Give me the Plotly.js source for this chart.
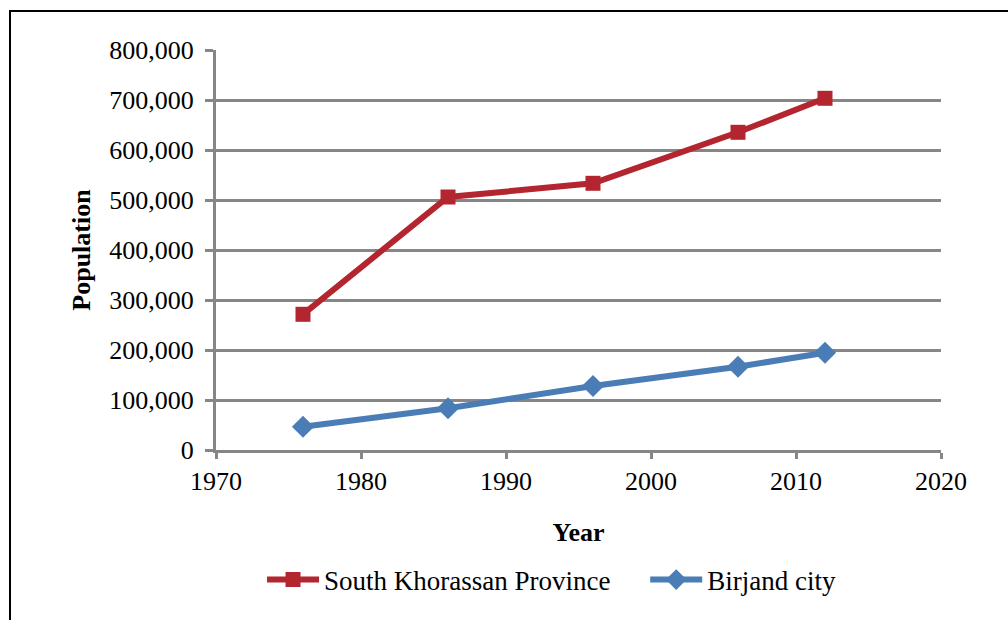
<!DOCTYPE html>
<html><head><meta charset="utf-8">
<script src="https://cdn.plot.ly/plotly-3.0.1.min.js"></script>
<style>
html,body{margin:0;padding:0;background:#fff;overflow:hidden}
#chart{width:1008px;height:620px;position:relative}
#frame{position:absolute;left:9px;top:10px;width:1100px;height:700px;border-left:2px solid #000;border-top:2px solid #000;pointer-events:none}
</style></head>
<body>
<div id="chart"></div>
<div id="frame"></div>
<script>
const years = [1976, 1986, 1996, 2006, 2012];
const southKhorassan = [271400, 506000, 533400, 635400, 703400];
const birjand = [46600, 83400, 128000, 166600, 194600];
const seriesNames = ["South Khorassan Province", "Birjand city"];
const xTicks = [1970, 1980, 1990, 2000, 2010, 2020];
const yTicks = [0, 100000, 200000, 300000, 400000, 500000, 600000, 700000, 800000];
const yTickText = ["0", "100,000", "200,000", "300,000", "400,000", "500,000", "600,000", "700,000", "800,000"];

const font = "'Liberation Serif', 'Times New Roman', serif";
const gridColor = "#868686";

const traces = [
  {x: years, y: southKhorassan, name: seriesNames[0], mode: "lines+markers", legend: "legend",
   line: {color: "#B3262F", width: 6}, marker: {symbol: "square", size: 15, color: "#B3262F"}},
  {x: years, y: birjand, name: seriesNames[1], mode: "lines+markers", legend: "legend2",
   line: {color: "#4A7DB5", width: 6}, marker: {symbol: "diamond", size: 17, color: "#4A7DB5"}}
];

const legendFont = {family: font, size: 27, color: "#000"};
const layout = {
  width: 1008, height: 620,
  margin: {l: 216, r: 67, t: 50, b: 170},
  paper_bgcolor: "#fff", plot_bgcolor: "#fff",
  showlegend: true,
  legend: {orientation: "h", x: 0.0635, xanchor: "left", y: -0.325, yanchor: "middle",
           font: legendFont, itemwidth: 52},
  legend2: {orientation: "h", x: 0.592, xanchor: "left", y: -0.325, yanchor: "middle",
           font: legendFont, itemwidth: 52},
  xaxis: {range: [1970, 2020], tickvals: xTicks, ticktext: xTicks.map(String),
          showgrid: false, zeroline: false, showline: true, linecolor: gridColor, linewidth: 3,
          ticks: "outside", ticklen: 6, tickwidth: 3, tickcolor: gridColor,
          tickfont: {family: font, size: 26, color: "#000"},
          title: {text: "<b>Year</b>", font: {family: font, size: 26, color: "#000"}, standoff: 28}},
  yaxis: {range: [0, 800000], tickvals: yTicks, ticktext: yTickText,
          showgrid: true, gridcolor: gridColor, gridwidth: 3, zeroline: false,
          showline: true, linecolor: gridColor, linewidth: 3,
          ticks: "outside", ticklen: 8, tickwidth: 3, tickcolor: gridColor,
          ticklabelstandoff: 6,
          tickfont: {family: font, size: 26, color: "#000"},
          title: {text: "<b>Population</b>", font: {family: font, size: 26, color: "#000"}, standoff: 12}}
};

Plotly.newPlot("chart", traces, layout, {displayModeBar: false, staticPlot: true});
</script>
</body></html>
